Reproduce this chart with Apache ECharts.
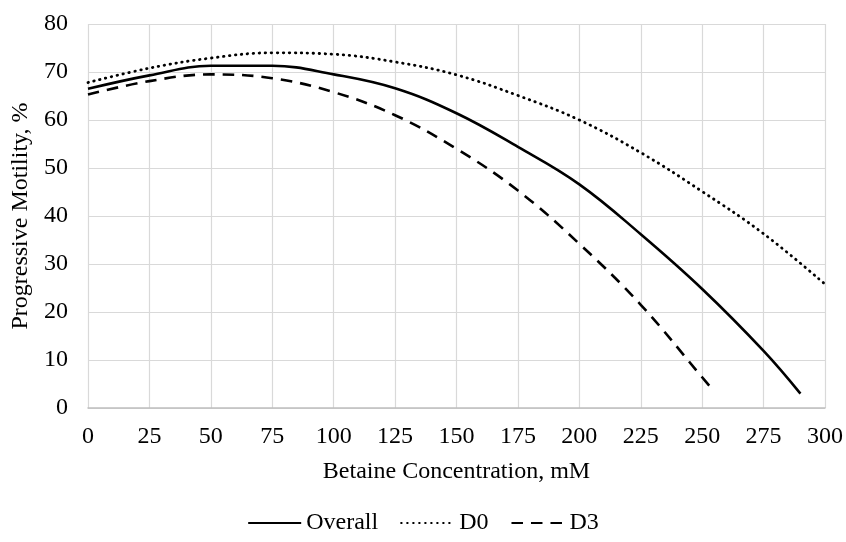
<!DOCTYPE html>
<html>
<head>
<meta charset="utf-8">
<script src="https://cdn.jsdelivr.net/npm/echarts@6/dist/echarts.min.js"></script>
<style>
html,body{margin:0;padding:0;background:#fff;}
#chart{width:846px;height:542px;}
</style>
</head>
<body>
<div id="chart"></div>
<script>
var overallX = [0, 25, 50, 75, 100, 125, 150, 175, 200, 225, 250, 275, 290];
var overallY = [66.5, 69.3, 71.3, 71.3, 69.5, 66.6, 61.4, 54.4, 46.6, 36.2, 24.8, 11.9, 3.0];
var d0X = [0, 25, 50, 75, 100, 125, 150, 175, 200, 225, 250, 275, 300];
var d0Y = [67.8, 70.8, 72.9, 74.0, 73.7, 72.1, 69.4, 65.1, 60.0, 53.2, 45.1, 36.3, 25.8];
var d3X = [0, 25, 50, 75, 100, 125, 150, 175, 200, 225, 250, 253];
var d3Y = [65.3, 68.1, 69.5, 68.7, 65.8, 61.0, 54.0, 45.3, 34.2, 21.5, 6.4, 4.6];
var xTicks = [0, 25, 50, 75, 100, 125, 150, 175, 200, 225, 250, 275, 300];
var yTicks = [0, 10, 20, 30, 40, 50, 60, 70, 80];

function pairs(xs, ys) { return xs.map(function (x, i) { return [x, ys[i]]; }); }

var font = '"Liberation Serif", "Times New Roman", serif';
var chart = echarts.init(document.getElementById('chart'));
chart.setOption({
  backgroundColor: '#ffffff',
  animation: false,
  textStyle: { fontFamily: font, color: '#000' },
  grid: { left: 88, right: 21, top: 24, bottom: 134, containLabel: false },
  legend: {
    bottom: 2,
    left: 'center',
    padding: [5, 5, 5, 14],
    itemWidth: 53,
    itemHeight: 14,
    itemGap: 22,
    itemStyle: { color: 'rgba(0,0,0,0)', borderWidth: 0, opacity: 0 },
    textStyle: { fontFamily: font, fontSize: 24, color: '#000' },
    data: ['Overall', 'D0', 'D3']
  },
  xAxis: {
    type: 'value',
    min: xTicks[0], max: xTicks[xTicks.length - 1], interval: 25,
    name: 'Betaine Concentration, mM',
    nameLocation: 'middle', nameGap: 52,
    nameTextStyle: { fontFamily: font, fontSize: 24, color: '#000' },
    axisLine: { show: true, lineStyle: { color: '#bfbfbf', width: 1.5 } },
    axisTick: { show: false },
    axisLabel: { fontFamily: font, fontSize: 24, color: '#000', margin: 17 },
    splitLine: { show: true, lineStyle: { color: '#d9d9d9', width: 1.2 } }
  },
  yAxis: {
    type: 'value',
    min: yTicks[0], max: yTicks[yTicks.length - 1], interval: 10,
    name: 'Progressive Motility, %',
    nameLocation: 'middle', nameGap: 50,
    nameTextStyle: { fontFamily: font, fontSize: 24, color: '#000' },
    axisLine: { show: false },
    axisTick: { show: false },
    axisLabel: { fontFamily: font, fontSize: 24, color: '#000', margin: 20 },
    splitLine: { show: true, lineStyle: { color: '#d9d9d9', width: 1.2 } }
  },
  series: [
    {
      name: 'Overall', type: 'line', smooth: 0.4, symbol: 'none',
      data: pairs(overallX, overallY),
      lineStyle: { color: '#000', width: 2.6, type: 'solid' },
      itemStyle: { color: '#000' }
    },
    {
      name: 'D0', type: 'line', smooth: 0.4, symbol: 'none',
      data: pairs(d0X, d0Y),
      lineStyle: { color: '#000', width: 2.8, type: [0.5, 5.5], cap: 'round' },
      itemStyle: { color: '#000' }
    },
    {
      name: 'D3', type: 'line', smooth: 0.4, symbol: 'none',
      data: pairs(d3X, d3Y),
      lineStyle: { color: '#000', width: 2.6, type: [11.5, 8] },
      itemStyle: { color: '#000' }
    }
  ]
});
</script>
</body>
</html>
